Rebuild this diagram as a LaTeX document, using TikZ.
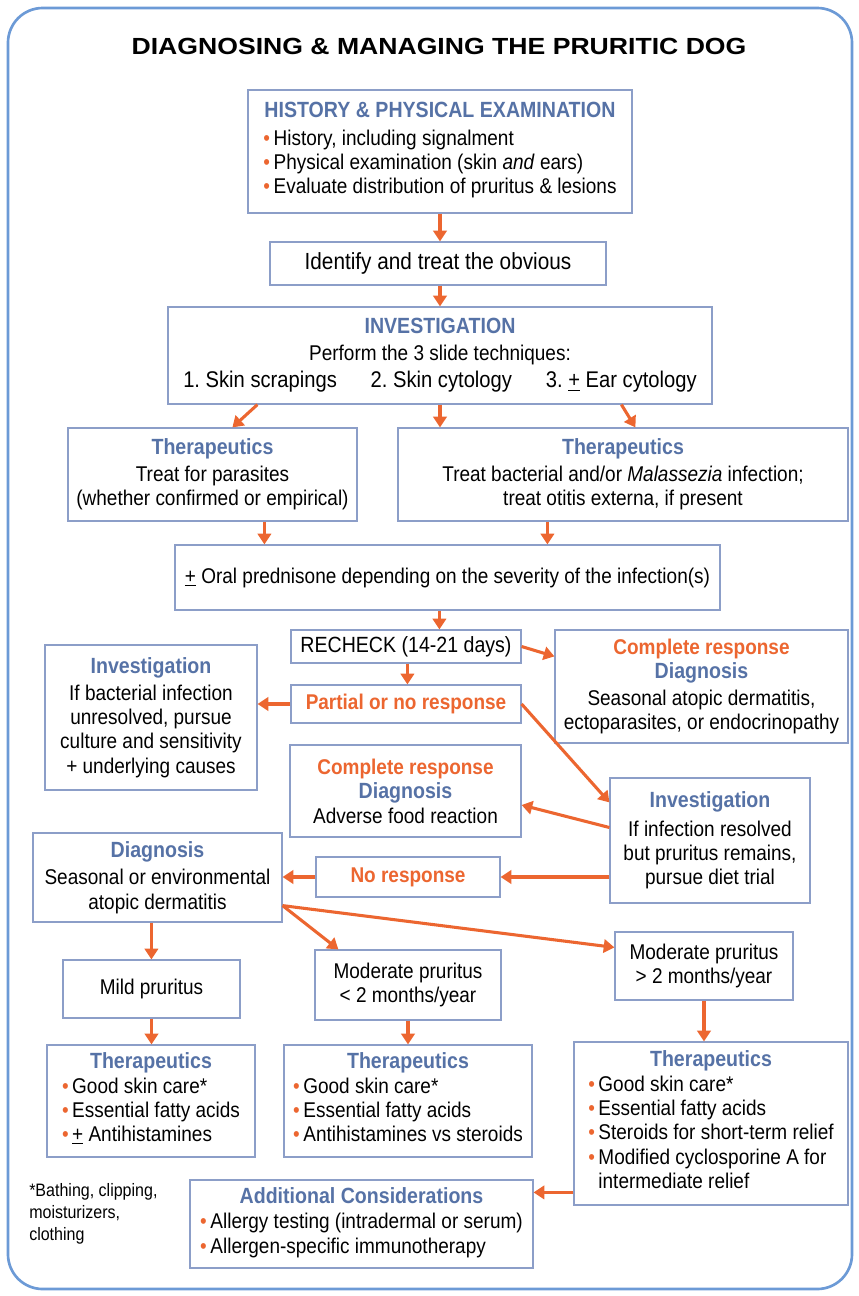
\documentclass[tikz,border=0pt]{standalone}
\usepackage{fontspec}
\setmainfont{Liberation Sans}[FakeStretch=0.89]
\newfontfamily\titlefont{Liberation Sans}[FakeStretch=1.14]
\usetikzlibrary{arrows.meta,fit,calc}
\definecolor{tblue}{RGB}{86,114,166}
\definecolor{orng}{RGB}{236,102,48}
\definecolor{bord}{RGB}{140,158,200}
\definecolor{outerc}{RGB}{108,154,214}
\tikzset{
  box/.style={draw=bord, line width=0.9pt, fill=white, inner sep=0pt},
  txt/.style={inner sep=0pt, align=center, font=\fontsize{16}{18.3}\selectfont},
  arr/.style={draw=orng, line width=2.3pt, -{Triangle[length=8pt,width=10pt]}},
}
\newcommand\hd[1]{\textcolor{tblue}{\fontsize{16.5}{18.3}\selectfont\bfseries #1}}
\newcommand\og[1]{\textcolor{orng}{\bfseries #1}}
\newcommand\bul{\textcolor{orng}{\textbullet}\,}
\newcommand\pmu{\underline{+}}
\newcommand\bx[4]{\node[box, fit={#2 #3}] (#1) {};\node[txt] (#1t) at (#1.center) {#4};}
\begin{document}
\begin{tikzpicture}[x=0.75pt,y=-0.75pt]
\useasboundingbox (0,0) rectangle (859,1296);
\draw[outerc, line width=2pt, rounded corners=26pt] (8,8) rectangle (852,1289);
\node[font=\titlefont\fontsize{17.5}{20}\selectfont\bfseries] (title) at (439,46) {DIAGNOSING \& MANAGING THE PRURITIC DOG};

\bx{hist}{(248,90)}{(632,213)}{\hd{HISTORY \& PHYSICAL EXAMINATION}\\[7pt]
  \begin{tabular}{@{}l@{}}\bul History, including signalment\\ \bul Physical examination (skin \emph{and} ears)\\ \bul Evaluate distribution of pruritus \& lesions\end{tabular}}
\bx{ident}{(270,242)}{(606,285)}{\fontsize{17.5}{20}\selectfont Identify and treat the obvious}
\bx{invest}{(168,307)}{(712,404)}{\hd{INVESTIGATION}\\[2pt] Perform the 3 slide techniques:\\[2pt]
  {\fontsize{17}{19}\selectfont 1.\ Skin scrapings\quad\ \ 2.\ Skin cytology\quad\ \ 3.\ \pmu\ Ear cytology}}
\bx{ther1}{(68,428)}{(357,521)}{\hd{Therapeutics}\\[2pt] Treat for parasites\\ (whether confirmed or empirical)}
\bx{ther2}{(398,428)}{(848,521)}{\hd{Therapeutics}\\[2pt] Treat bacterial and/or \emph{Malassezia} infection;\\ treat otitis externa, if present}
\bx{pred}{(175,545)}{(720,610)}{\pmu\ Oral prednisone depending on the severity of the infection(s)}
\bx{recheck}{(291,630)}{(521,663)}{\fontsize{16.5}{18}\selectfont RECHECK (14-21 days)}
\bx{compl1}{(555,630)}{(848,743)}{\og{Complete response}\\ \hd{Diagnosis}\\[2pt] Seasonal atopic dermatitis,\\ ectoparasites, or endocrinopathy}
\bx{partial}{(291,685)}{(521,723)}{\og{Partial or no response}}
\bx{inv1}{(45,645)}{(257,790)}{\hd{Investigation}\\[2pt] If bacterial infection\\ unresolved, pursue\\ culture and sensitivity\\ + underlying causes}
\bx{compl2}{(290,745)}{(521,837)}{\og{Complete response}\\ \hd{Diagnosis}\\ Adverse food reaction}
\bx{inv2}{(610,778)}{(810,903)}{\hd{Investigation}\\[3pt] If infection resolved\\ but pruritus remains,\\ pursue diet trial}
\bx{noresp}{(316,857)}{(500,897)}{\og{No response}}
\bx{diag}{(33,833)}{(282,922)}{\hd{Diagnosis}\\[2pt] Seasonal or environmental\\ atopic dermatitis}
\bx{mild}{(63,960)}{(240,1018)}{Mild pruritus}
\bx{mod1}{(315,950)}{(501,1020)}{Moderate pruritus\\ < 2 months/year}
\bx{mod2}{(615,932)}{(793,1000)}{Moderate pruritus\\ > 2 months/year}
\bx{tm1}{(47,1045)}{(255,1157)}{\hd{Therapeutics}\\[1pt]
  \begin{tabular}{@{}l@{}}\bul Good skin care*\\ \bul Essential fatty acids\\ \bul \pmu\ Antihistamines\end{tabular}}
\bx{tm2}{(284,1045)}{(532,1157)}{\hd{Therapeutics}\\[1pt]
  \begin{tabular}{@{}l@{}}\bul Good skin care*\\ \bul Essential fatty acids\\ \bul Antihistamines vs steroids\end{tabular}}
\bx{tm3}{(574,1042)}{(848,1205)}{\hd{Therapeutics}\\[1pt]
  \begin{tabular}{@{}l@{}}\bul Good skin care*\\ \bul Essential fatty acids\\ \bul Steroids for short-term relief\\ \bul Modified cyclosporine A for\\ \phantom{\bul}intermediate relief\end{tabular}}
\bx{add}{(190,1180)}{(533,1268)}{\hd{Additional Considerations}\\[5pt]
  \begin{tabular}{@{}l@{}}\bul Allergy testing (intradermal or serum)\\ \bul Allergen-specific immunotherapy\end{tabular}}
\node[anchor=north west, align=left, inner sep=0pt, font=\fontsize{13.5}{16.5}\selectfont] (foot) at (29,1183) {*Bathing, clipping,\\ moisturizers,\\ clothing};

% connectors
\draw[arr] (hist.south) -- (hist.south |- ident.north);
\draw[arr] (ident.south -| hist.south) -- (invest.north);
\draw[arr] ($(invest.south west)+(90,0)$) -- ($(ther1.north west)+(165,0)$);
\draw[arr] (invest.south) -- (invest.south |- ther2.north);
\draw[arr] ($(invest.south west)+(454,0)$) -- ($(ther2.north west)+(238,0)$);
\draw[arr] ($(ther1.south west)+(197,0)$) -- ($(pred.north west)+(90,0)$);
\draw[arr] ($(ther2.south west)+(150,0)$) -- ($(pred.north west)+(373,0)$);
\draw[arr] ($(pred.south west)+(265,0)$) -- ($(recheck.north west)+(149,0)$);
\draw[arr] (recheck.east) -- ($(compl1.north west)+(0,27)$);
\draw[arr] ($(recheck.south west)+(117,0)$) -- ($(partial.north west)+(117,0)$);
\draw[arr] (partial.west) -- (partial.west -| inv1.east);
\draw[arr] (partial.east) -- ($(inv2.north west)+(0,25)$);
\draw[arr] ($(inv2.west)+(0,-13)$) -- ($(compl2.east)+(0,14)$);
\draw[arr] (noresp.east -| inv2.west) -- (noresp.east);
\draw[arr] (noresp.west) -- (noresp.west -| diag.east);
\draw[arr] ($(diag.south west)+(119,0)$) -- ($(mild.north west)+(89,0)$);
\draw[arr] ($(diag.south east)+(0,-17)$) -- ($(mod1.north west)+(24,0)$);
\draw[arr] ($(diag.south east)+(0,-17)$) -- ($(mod2.north west)+(0,16)$);
\draw[arr] (mild.south) -- (mild.south |- tm1.north);
\draw[arr] (mod1.south) -- (mod1.south |- tm2.north);
\draw[arr] (mod2.south) -- (mod2.south |- tm3.north);
\coordinate (aa) at ($(add.north east)+(0,13)$);
\draw[arr] (tm3.west |- aa) -- (aa);
\end{tikzpicture}
\end{document}
